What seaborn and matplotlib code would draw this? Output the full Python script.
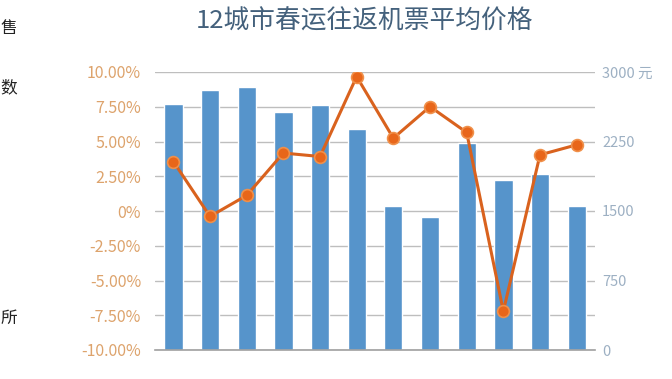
import matplotlib
matplotlib.use("Agg")
import matplotlib.pyplot as plt
import seaborn as sns
import numpy as np
from matplotlib.ticker import MultipleLocator

sns.set_theme(style="white")
plt.rcParams['font.family'] = ['Noto Sans CJK SC', 'DejaVu Sans']

cities = ["广州", "深圳", "北京", "杭州", "上海", "天津", "重庆", "西安", "南京", "厦门", "成都", "武汉"]
prices = [2660, 2810, 2840, 2570, 2645, 2390, 1555, 1430, 2230, 1835, 1900, 1555]
pct_change = [3.56, -0.39, 1.12, 4.17, 3.92, 9.67, 5.24, 7.51, 5.65, -7.21, 4.04, 4.76]
title = "12城市春运往返机票平均价格"
left_ticks = [10, 7.5, 5, 2.5, 0, -2.5, -5, -7.5, -10]
left_labels = ["10.00%", "7.50%", "5.00%", "2.50%", "0%", "-2.50%", "-5.00%", "-7.50%", "-10.00%"]
right_ticks = [0, 750, 1500, 2250, 3000]
right_labels = ["0", "750", "1500", "2250", "3000 元"]
edge_chars = ["售", "数", "所"]

fig = plt.figure(figsize=(6.72, 3.79), dpi=100)
ax = fig.add_axes([155/672, 1-350/379, 440/672, 278/379])

bar_color = "#5694CB"
sns.barplot(x=cities, y=prices, ax=ax, color=bar_color, width=0.5, saturation=1)
ax.set_ylim(0, 3000)
ax.set_xlim(-0.5, len(cities) - 0.5)
ax.set_axisbelow(True)
ax.set_xlabel("")
ax.set_ylabel("")

ax2 = ax.twinx()
sns.pointplot(x=cities, y=pct_change, ax=ax2, color="#E8661A", markers="o",
              linestyles="-", markersize=8.5, linewidth=2.2)
for ln in ax2.lines:
    ln.set_markeredgecolor("#F0904A")
    ln.set_markeredgewidth(1.2)
    ln.set_color("#D9621E")
    ln.set_markerfacecolor("#E8661A")
ax2.set_ylim(-10, 10)
ax2.set_xlim(-0.5, len(cities) - 0.5)
ax2.set_yticks(left_ticks)
ax2.set_yticklabels(left_labels)
ax2.yaxis.tick_left()
ax2.tick_params(axis="y", length=0, pad=10, labelsize=11.5, labelcolor="#DDA36C")
ax2.set_xticks([])
for s in ["top", "left", "right", "bottom"]:
    ax2.spines[s].set_visible(False)
ax2.set_xlabel("")
ax2.set_ylabel("")
ax2.grid(False)

# bar axis: ticks on the right
ax.yaxis.tick_right()
ax.yaxis.set_label_position("right")
ax.set_yticks(right_ticks)
ax.set_yticklabels(right_labels)
ax.yaxis.set_minor_locator(MultipleLocator(375))
ax.grid(True, axis="y", which="both", color="#BEBEBE", linewidth=1)
ax.tick_params(axis="y", which="both", length=0, pad=5, labelsize=10.5, labelcolor="#9DB0C3",
               left=False, labelleft=False, right=False, labelright=True)
ax.tick_params(axis="x", length=0, pad=4, labelsize=10.5, labelcolor="#4A4A4A")
for lbl in ax.get_xticklabels():
    lbl.set_fontweight("bold")
for s in ["top", "left", "right"]:
    ax.spines[s].set_visible(False)
ax.spines["bottom"].set_color("#A0A0A0")
ax.spines["bottom"].set_linewidth(1.2)

fig.text(364/672, 1-22/379, title, ha="center", va="center", fontsize=18.5, color="#44617C")

for ch, yy in zip(edge_chars, [28, 88, 318]):
    fig.text(0.5/672, 1-yy/379, ch, ha="left", va="center", fontsize=12, color="#222222")

fig.savefig("out.png", dpi=100)
